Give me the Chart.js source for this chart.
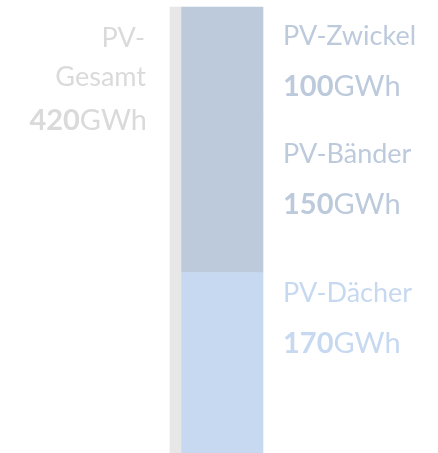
<!DOCTYPE html>
<html>
<head>
<meta charset="utf-8">
<script src="https://cdn.jsdelivr.net/npm/chart.js@4.4.1/dist/chart.umd.min.js"></script>
<style>
  html, body { margin: 0; padding: 0; background: #fff; }
  #chart { display: block; }
</style>
</head>
<body>
<canvas id="chart" width="438" height="453"></canvas>
<script>
// values (GWh)
const categories = ["Gesamt", "Teile"];
const totalLabelLines = ["PV-", "Gesamt"];
const totalValue = 420;
const segmentLabels = ["PV-Dächer", "PV-Bänder", "PV-Zwickel"];
const segmentValues = [170, 150, 100];
const unit = "GWh";

const grayBar = "#e7e7e7";
const segmentColors = ["#c6d9f1", "#bccadc", "#bccadc"];
const totalTextColor = "#dadada";

const FONT = "Lato, 'Open Sans', sans-serif";
const LABEL_SIZE = 27;
const VALUE_SIZE = 29;

// label baselines relative to the top of each segment
const labelOffsets = [30, 50, 38];
const valueGap = 51;

function drawValue(ctx, x, y, value, align) {
  ctx.textBaseline = "alphabetic";
  ctx.textAlign = "left";
  ctx.font = "bold " + VALUE_SIZE + "px " + FONT;
  const numW = ctx.measureText(String(value)).width;
  ctx.font = VALUE_SIZE + "px " + FONT;
  const unitW = ctx.measureText(unit).width;
  const start = align === "right" ? x - numW - unitW : x;
  ctx.font = "bold " + VALUE_SIZE + "px " + FONT;
  ctx.fillText(String(value), start, y);
  ctx.font = VALUE_SIZE + "px " + FONT;
  ctx.fillText(unit, start + numW, y);
}

const labelPlugin = {
  id: "side-labels",
  afterDatasetsDraw(chart) {
    const { ctx } = chart;
    const y = chart.scales.y;
    ctx.save();

    // right side: one block per segment
    const stackBar = chart.getDatasetMeta(1).data[1];
    const rightX = stackBar.x + stackBar.width / 2 + 20;
    let cum = 0;
    segmentValues.forEach((v, i) => {
      cum += v;
      const top = y.getPixelForValue(cum);
      const base = top + labelOffsets[i];
      ctx.fillStyle = segmentColors[i];
      ctx.font = LABEL_SIZE + "px " + FONT;
      ctx.textAlign = "left";
      ctx.fillText(segmentLabels[i], rightX, base);
      drawValue(ctx, rightX, base + valueGap, v, "left");
    });

    // left side: total
    const totalBar = chart.getDatasetMeta(0).data[0];
    const leftX = totalBar.x - totalBar.width / 2 - 23;
    const top = y.getPixelForValue(totalValue);
    ctx.fillStyle = totalTextColor;
    ctx.font = LABEL_SIZE + "px " + FONT;
    ctx.textAlign = "right";
    ctx.fillText(totalLabelLines[0], leftX - 2, top + 40);
    ctx.fillText(totalLabelLines[1], leftX - 1, top + 79);
    drawValue(ctx, leftX, top + 123, totalValue, "right");

    ctx.restore();
  },
};

const datasets = [
  {
    label: totalLabelLines.join(""),
    data: [totalValue, null],
    backgroundColor: grayBar,
    barThickness: 11,
    clip: false,
  },
];
segmentLabels.forEach((lbl, i) => {
  datasets.push({
    label: lbl,
    data: [null, segmentValues[i]],
    backgroundColor: segmentColors[i],
    barThickness: 82,
    clip: false,
  });
});

new Chart(document.getElementById("chart"), {
  type: "bar",
  data: { labels: categories, datasets },
  options: {
    responsive: false,
    animation: false,
    devicePixelRatio: 1,
    grouped: false,
    borderWidth: 0,
    layout: { padding: { left: 152.25, right: 192.75, top: 7, bottom: 0 } },
    plugins: {
      legend: { display: false },
      tooltip: { enabled: false },
    },
    scales: {
      x: { display: false, stacked: true, grid: { display: false } },
      y: { display: false, stacked: true, min: 0, max: totalValue, grid: { display: false } },
    },
  },
  plugins: [labelPlugin],
});
</script>
</body>
</html>
